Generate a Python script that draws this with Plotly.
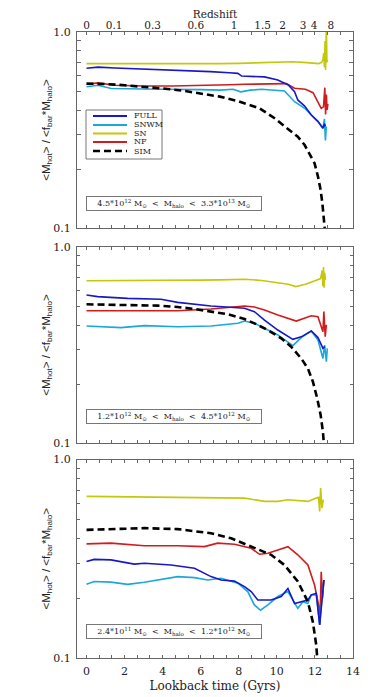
import plotly.graph_objects as go

# ---------------- data ----------------
redshift_labels = ["0", "0.1", "0.3", "0.6", "1", "1.5", "2", "3", "4", "8"]
redshift_lookback = [0, 1.45, 3.47, 5.74, 7.75, 9.25, 10.3, 11.38, 11.96, 12.84]

x_tickvals = [0, 2, 4, 6, 8, 10, 12, 14]
y_tickvals = [0.1, 1.0]
y_ticktext = ["0.1", "1.0"]
y_minor = [0.2, 0.3, 0.4, 0.5, 0.6, 0.7, 0.8, 0.9]

series_names = ["FULL", "SNWM", "SN", "NF", "SIM"]

mass_labels = [
    "4.5*10<sup>12</sup> M<sub>⊙</sub>  &lt;  M<sub>halo</sub>  &lt;  3.3*10<sup>13</sup> M<sub>⊙</sub>",
    "1.2*10<sup>12</sup> M<sub>⊙</sub>  &lt;  M<sub>halo</sub>  &lt;  4.5*10<sup>12</sup> M<sub>⊙</sub>",
    "2.4*10<sup>11</sup> M<sub>⊙</sub>  &lt;  M<sub>halo</sub>  &lt;  1.2*10<sup>12</sup> M<sub>⊙</sub>",
]

# ---- panel 1: 4.5e12 - 3.3e13 ----
p1_full_t = [0, 0.6, 1.5, 2.5, 3.5, 4.5, 5.5, 6.5, 7.5, 7.95, 8.15, 8.6, 9.35, 10.05, 10.6, 10.93, 11.1, 11.46, 11.81, 12.16, 12.42, 12.5, 12.55]
p1_full_v = [0.653, 0.662, 0.655, 0.65, 0.645, 0.64, 0.635, 0.628, 0.62, 0.615, 0.596, 0.595, 0.59, 0.569, 0.537, 0.496, 0.45, 0.419, 0.377, 0.349, 0.323, 0.34, 0.33]
p1_snwm_t = [0, 0.6, 1.3, 2.2, 3, 4, 5, 6, 7, 7.7, 8.1, 8.6, 9.2, 10.05, 10.4, 10.93, 11.46, 11.81, 12.16, 12.42, 12.5, 12.55, 12.6]
p1_snwm_v = [0.526, 0.535, 0.515, 0.515, 0.512, 0.51, 0.51, 0.508, 0.505, 0.51, 0.495, 0.505, 0.51, 0.506, 0.50, 0.441, 0.408, 0.377, 0.35, 0.323, 0.36, 0.28, 0.33]
p1_sn_t = [0, 1, 2, 3, 4, 5, 6, 7, 8, 9, 10, 10.8, 11.4, 11.9, 12.2, 12.35, 12.42, 12.46, 12.5, 12.53, 12.56, 12.6, 12.63, 12.66]
p1_sn_v = [0.69, 0.69, 0.685, 0.685, 0.686, 0.688, 0.69, 0.69, 0.692, 0.695, 0.70, 0.705, 0.70, 0.69, 0.69, 0.70, 0.72, 0.78, 0.66, 0.9, 0.64, 1.1, 0.70, 0.72]
p1_nf_t = [0, 0.6, 1.5, 3, 4.5, 6, 7.5, 8.3, 9.3, 10.05, 10.5, 10.93, 11.5, 11.9, 12.16, 12.33, 12.45, 12.52, 12.56, 12.6, 12.64, 12.68]
p1_nf_v = [0.541, 0.55, 0.535, 0.53, 0.53, 0.532, 0.538, 0.541, 0.545, 0.548, 0.545, 0.516, 0.51, 0.49, 0.44, 0.408, 0.415, 0.52, 0.38, 0.48, 0.40, 0.43]
p1_sim_t = [0, 1, 2, 3, 4, 5, 6, 7, 8, 9.09, 9.88, 10.58, 11.1, 11.46, 11.72, 11.98, 12.16, 12.3, 12.39, 12.46, 12.52]
p1_sim_v = [0.545, 0.543, 0.535, 0.526, 0.515, 0.503, 0.487, 0.468, 0.442, 0.408, 0.363, 0.322, 0.292, 0.265, 0.24, 0.214, 0.183, 0.156, 0.134, 0.114, 0.098]

# ---- panel 2: 1.2e12 - 4.5e12 ----
p2_full_t = [0, 0.58, 2.16, 3.91, 4.79, 6.54, 7.95, 8.3, 8.82, 9.35, 10.05, 10.84, 11.28, 11.81, 12.16, 12.42, 12.51]
p2_full_v = [0.569, 0.558, 0.547, 0.541, 0.522, 0.5, 0.49, 0.487, 0.468, 0.424, 0.377, 0.338, 0.348, 0.373, 0.345, 0.304, 0.31]
p2_snwm_t = [0, 1.81, 3.04, 4.79, 6.54, 7.95, 8.3, 8.82, 9.35, 10.05, 10.84, 11.28, 11.81, 12.16, 12.42, 12.51, 12.6, 12.65]
p2_snwm_v = [0.395, 0.388, 0.397, 0.392, 0.395, 0.408, 0.419, 0.408, 0.385, 0.356, 0.314, 0.345, 0.373, 0.335, 0.27, 0.316, 0.26, 0.304]
p2_sn_t = [0, 1, 2, 3, 4, 5, 6, 7, 7.5, 8.3, 9.2, 10.05, 10.6, 11.0, 11.5, 12.0, 12.3, 12.38, 12.42, 12.45, 12.48, 12.51, 12.55]
p2_sn_v = [0.673, 0.673, 0.674, 0.675, 0.676, 0.677, 0.678, 0.68, 0.682, 0.685, 0.675, 0.66, 0.645, 0.628, 0.645, 0.672, 0.69, 0.76, 0.63, 0.79, 0.62, 0.74, 0.68]
p2_nf_t = [0, 4.79, 6.54, 8.3, 8.82, 9.35, 10.05, 11.02, 11.81, 12.16, 12.42, 12.47, 12.54, 12.6]
p2_nf_v = [0.473, 0.473, 0.483, 0.5, 0.494, 0.477, 0.45, 0.419, 0.446, 0.441, 0.37, 0.468, 0.349, 0.401]
p2_sim_t = [0, 1.28, 2.51, 3.74, 4.79, 5.67, 6.54, 7.42, 8.3, 8.82, 9.53, 10.23, 10.75, 11.28, 11.63, 11.89, 12.12, 12.3, 12.42, 12.47]
p2_sim_v = [0.51, 0.506, 0.506, 0.502, 0.494, 0.483, 0.468, 0.454, 0.429, 0.408, 0.377, 0.342, 0.31, 0.27, 0.24, 0.206, 0.169, 0.139, 0.114, 0.099]

# ---- panel 3: 2.4e11 - 1.2e12 ----
p3_full_t = [0, 0.4, 1.28, 2.51, 3.04, 4.44, 5.67, 6.19, 6.54, 7.07, 7.77, 8.3, 8.65, 9.0, 9.7, 10.23, 10.58, 10.93, 11.28, 11.63, 11.81, 12.07, 12.25, 12.37, 12.47]
p3_full_v = [0.306, 0.314, 0.312, 0.297, 0.30, 0.294, 0.283, 0.267, 0.257, 0.247, 0.244, 0.229, 0.216, 0.196, 0.196, 0.204, 0.224, 0.188, 0.192, 0.196, 0.208, 0.212, 0.147, 0.20, 0.247]
p3_snwm_t = [0, 0.4, 1.28, 2.16, 3.04, 4.44, 4.79, 5.67, 6.37, 7.07, 7.95, 8.47, 8.82, 9.14, 9.53, 10.05, 10.58, 11.1, 11.37, 11.63, 11.81, 12.07, 12.25, 12.37, 12.47]
p3_snwm_v = [0.235, 0.243, 0.241, 0.235, 0.241, 0.252, 0.257, 0.254, 0.247, 0.252, 0.238, 0.216, 0.185, 0.174, 0.185, 0.204, 0.216, 0.178, 0.192, 0.188, 0.208, 0.208, 0.147, 0.20, 0.247]
p3_sn_t = [0, 3.04, 6.54, 8.3, 9.35, 10.05, 10.58, 10.93, 11.63, 12.07, 12.19, 12.25, 12.3, 12.37, 12.44]
p3_sn_v = [0.652, 0.647, 0.645, 0.639, 0.615, 0.615, 0.627, 0.622, 0.615, 0.639, 0.645, 0.547, 0.718, 0.569, 0.627]
p3_nf_t = [0, 1.28, 3.04, 4.79, 6.19, 6.89, 7.77, 8.65, 9.09, 9.53, 10.05, 10.58, 11.1, 11.63, 11.98, 12.19, 12.26, 12.33, 12.4, 12.47]
p3_nf_v = [0.376, 0.379, 0.368, 0.368, 0.364, 0.379, 0.374, 0.357, 0.333, 0.337, 0.35, 0.364, 0.331, 0.294, 0.233, 0.185, 0.147, 0.272, 0.20, 0.247]
p3_sim_t = [0, 1.28, 3.04, 4.79, 6.54, 7.6, 8.65, 9.7, 10.4, 11.1, 11.63, 11.89, 12.07, 12.12]
p3_sim_v = [0.442, 0.447, 0.451, 0.446, 0.425, 0.401, 0.364, 0.331, 0.294, 0.243, 0.192, 0.152, 0.116, 0.1]

# ---------------- styling ----------------
FONT = "DejaVu Serif"
SANS = "Liberation Sans"
AX = "#666666"
TXT = "#222222"
colors = {"FULL": "#1818c8", "SNWM": "#1aa8dc", "SN": "#c4c80c", "NF": "#d21c1c", "SIM": "#000000"}
dashes = {"FULL": "solid", "SNWM": "solid", "SN": "solid", "NF": "solid", "SIM": "7px,4px"}
widths = {"FULL": 1.6, "SNWM": 1.6, "SN": 1.6, "NF": 1.6, "SIM": 2.6}

panels = [
    {"FULL": (p1_full_t, p1_full_v), "SNWM": (p1_snwm_t, p1_snwm_v), "SN": (p1_sn_t, p1_sn_v),
     "NF": (p1_nf_t, p1_nf_v), "SIM": (p1_sim_t, p1_sim_v)},
    {"FULL": (p2_full_t, p2_full_v), "SNWM": (p2_snwm_t, p2_snwm_v), "SN": (p2_sn_t, p2_sn_v),
     "NF": (p2_nf_t, p2_nf_v), "SIM": (p2_sim_t, p2_sim_v)},
    {"FULL": (p3_full_t, p3_full_v), "SNWM": (p3_snwm_t, p3_snwm_v), "SN": (p3_sn_t, p3_sn_v),
     "NF": (p3_nf_t, p3_nf_v), "SIM": (p3_sim_t, p3_sim_v)},
]
draw_order = ["SN", "NF", "SNWM", "FULL", "SIM"]

# pixel layout helpers (page body adds an 8px offset)
OFF = 8
L, R, T, B = 77 - OFF, 353 - OFF, 32 - OFF, 658 - OFF
def px(x):
    return (x - OFF - L) / (R - L)
def py(y):
    return (B - (y - OFF)) / (B - T)

domains = [(py(228), py(32)), (py(443), py(247)), (py(658), py(459.5))]

fig = go.Figure()
for i, pdata in enumerate(panels):
    xa = "x" if i == 0 else f"x{i+1}"
    ya = "y" if i == 0 else f"y{i+1}"
    for name in draw_order:
        t, v = pdata[name]
        fig.add_trace(go.Scatter(
            x=t, y=v, mode="lines", name=name, showlegend=False,
            line=dict(color=colors[name], width=widths[name], dash=dashes[name]),
            xaxis=xa, yaxis=ya,
        ))

ytitle = "&lt;M<sub>hot</sub>&gt; / &lt;f<sub>bar</sub>*M<sub>halo</sub>&gt;"

def xaxis_cfg(anchor, labels):
    return dict(
        domain=[0, 1], anchor=anchor, range=[-0.5, 14],
        showline=True, linecolor=AX, linewidth=1, mirror="allticks",
        ticks="inside", ticklen=3, tickcolor=AX, tickwidth=1,
        tickvals=x_tickvals, showticklabels=labels, showgrid=False, zeroline=False,
        minor=dict(tick0=0, dtick=2/3, ticks="inside", ticklen=3, tickcolor=AX, showgrid=False),
        tickfont=dict(family=FONT, size=11, color=TXT),
    )

def yaxis_cfg(anchor, dom):
    return dict(
        domain=list(dom), anchor=anchor, type="log", range=[-1, 0],
        showline=True, linecolor=AX, linewidth=1, mirror="allticks",
        ticks="inside", ticklen=4, tickcolor=AX, tickwidth=1,
        tickvals=y_tickvals, ticktext=y_ticktext, showgrid=False, zeroline=False,
        minor=dict(tickvals=y_minor, ticks="inside", ticklen=3, tickcolor=AX, showgrid=False),
        tickfont=dict(family=FONT, size=11, color=TXT), ticklabelstandoff=3,
        title=dict(text=ytitle, font=dict(family=SANS, size=11.5, color=TXT), standoff=0),
    )

layout = dict(
    width=374, height=697,
    margin=dict(l=L, r=374 - R, t=T, b=697 - B, autoexpand=False),
    paper_bgcolor="white", plot_bgcolor="white",
    showlegend=False,
    font=dict(family=FONT, color=TXT),
    xaxis=xaxis_cfg("y", False),
    xaxis2=xaxis_cfg("y2", False),
    xaxis3=xaxis_cfg("y3", True),
    yaxis=yaxis_cfg("x", domains[0]),
    yaxis2=yaxis_cfg("x2", domains[1]),
    yaxis3=yaxis_cfg("x3", domains[2]),
)
layout["xaxis3"]["title"] = dict(text="Lookback time (Gyrs)", font=dict(family=FONT, size=12, color=TXT), standoff=4)
layout["xaxis3"]["ticklabelstandoff"] = 3
layout["xaxis4"] = dict(
    overlaying="x", anchor="y", side="top", range=[-0.5, 14],
    tickvals=redshift_lookback, ticktext=redshift_labels, ticks="",
    showline=False, showgrid=False, zeroline=False, ticklabelstandoff=0,
    tickfont=dict(family=FONT, size=10.5, color=TXT),
    title=dict(text="Redshift", font=dict(family=FONT, size=10.5, color=TXT), standoff=13),
)
fig.update_layout(**layout)
# invisible helper trace to activate the redshift axis
fig.add_trace(go.Scatter(x=[None], y=[None], xaxis="x4", yaxis="y", showlegend=False, hoverinfo="skip"))

# ---- compact legend in panel 1 ----
shapes = [dict(type="rect", xref="paper", yref="paper", x0=px(86), x1=px(162), y0=py(159), y1=py(110),
               line=dict(color="#777777", width=1), fillcolor="white", layer="above")]
annotations = []
row_y = [116, 125, 133.5, 142, 151]
for name, yy in zip(series_names, row_y):
    shapes.append(dict(type="line", xref="paper", yref="paper", x0=px(93), x1=px(127), y0=py(yy), y1=py(yy),
                       line=dict(color=colors[name], width=2 if name != "SIM" else 2.4, dash=dashes[name]),
                       layer="above"))
    annotations.append(dict(xref="paper", yref="paper", x=px(132), y=py(yy), text=name, showarrow=False,
                            xanchor="left", yanchor="middle", font=dict(family=FONT, size=8, color=TXT)))

# ---- mass-range boxes ----
box_y = [203, 417, 631]
for lab, yy in zip(mass_labels, box_y):
    annotations.append(dict(xref="paper", yref="paper", x=px(174), y=py(yy), text=lab, showarrow=False,
                            xanchor="center", yanchor="middle", width=172, height=11, borderpad=1,
                            bordercolor="#777777", borderwidth=1, bgcolor="white",
                            font=dict(family=FONT, size=8, color=TXT)))

fig.update_layout(shapes=shapes, annotations=annotations)
fig.write_html("out.html")
